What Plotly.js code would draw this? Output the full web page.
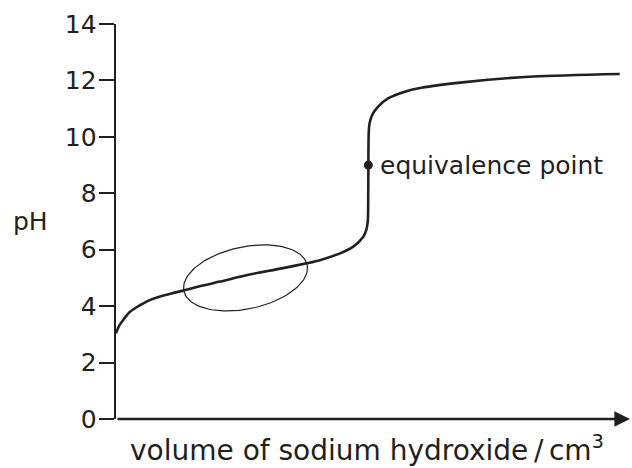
<!DOCTYPE html>
<html>
<head>
<meta charset="utf-8">
<script src="https://cdn.plot.ly/plotly-3.0.1.min.js"></script>
<style>html,body{margin:0;padding:0;background:#fff;}#chart{width:632px;height:468px;}</style>
</head>
<body>
<div id="chart"></div>
<script>
// Titration curve (volume in arbitrary cm3 units, pH)
const volume = [0, 0.3, 0.7, 1.36, 2.0, 2.66, 3.4, 4.28, 5.4, 6.55, 8.3, 10.1, 13.0, 16.0, 18.55, 19.84, 21.8, 23.08, 24.06, 24.35, 24.5, 24.53, 24.55, 24.56, 24.58, 24.63, 24.75, 24.95, 25.5, 26.5, 28.1, 29.7, 33.95, 40.6, 49.0];
const pH     = [3.04, 3.3, 3.51, 3.80, 3.96, 4.10, 4.23, 4.34, 4.45, 4.55, 4.72, 4.87, 5.12, 5.33, 5.52, 5.63, 5.87, 6.11, 6.46, 6.7, 7.05, 7.6, 9.0, 9.7, 10.1, 10.4, 10.6, 10.8, 11.07, 11.37, 11.6, 11.74, 11.94, 12.14, 12.23];
const equivalence = {volume: 24.55, pH: 9.0};
const yTicks = [0, 2, 4, 6, 8, 10, 12, 14];
const xTitle = "volume of sodium hydroxide\u2009/\u2009cm<sup>3</sup>";
const yTitle = "pH";
const eqLabel = "equivalence point";

// layout geometry
const W = 632, H = 468, L = 116, R = 2, T = 24, B = 49;
const xMax = 50, yMax = 14;
const pxX = (W - L - R) / xMax, pxY = (H - T - B) / yMax;

// ellipse (buffer region): data centre, pixel radii and tilt
const ell = {cx: 12.6, cy: 5.0, a: 63, b: 31, tiltDeg: 12};
const ex = [], ey = [];
for (let i = 0; i <= 120; i++) {
  const t = 2 * Math.PI * i / 120, th = ell.tiltDeg * Math.PI / 180;
  const dx = ell.a * Math.cos(t) * Math.cos(th) - ell.b * Math.sin(t) * Math.sin(th);
  const dy = ell.a * Math.cos(t) * Math.sin(th) + ell.b * Math.sin(t) * Math.cos(th);
  ex.push(ell.cx + dx / pxX); ey.push(ell.cy + dy / pxY);
}

const ink = '#231f20';
const fam = 'DejaVu Sans, Liberation Sans, Arial, sans-serif';
const tickFont = {family: fam, size: 25, color: ink};
const textFont = {family: fam, size: 25, color: ink};
const xTitleFont = {family: fam, size: 28, color: ink};

const traces = [
  {x: ex, y: ey, mode: 'lines', line: {color: ink, width: 1.2}, hoverinfo: 'skip', cliponaxis: false},
  {x: volume, y: pH, mode: 'lines', line: {color: ink, width: 2.6, shape: 'spline', smoothing: 0.7}, cliponaxis: false},
  {x: [equivalence.volume], y: [equivalence.pH], mode: 'markers', marker: {color: ink, size: 9}, cliponaxis: false}
];

const layout = {
  width: W, height: H,
  margin: {l: L, r: R, t: T, b: B},
  paper_bgcolor: '#fff', plot_bgcolor: '#fff',
  showlegend: false,
  font: textFont,
  xaxis: {range: [0, xMax], showline: false, showgrid: false, zeroline: false,
          showticklabels: false, ticks: '', fixedrange: true},
  yaxis: {range: [0, yMax], tickvals: yTicks, ticks: 'outside', ticklen: 15, tickwidth: 2, tickcolor: ink,
          ticklabelstandoff: -3,
          showline: true, linecolor: ink, linewidth: 2.4, showgrid: false, zeroline: false, tickfont: tickFont,
          fixedrange: true},
  annotations: [
    {x: xMax, y: 0, xref: 'x', yref: 'y', ax: 0, ay: 0, axref: 'x', ayref: 'y', text: '', showarrow: true,
     arrowhead: 2, arrowsize: 1.3, arrowwidth: 2.4, arrowcolor: ink},
    {x: equivalence.volume, y: equivalence.pH, xref: 'x', yref: 'y', text: eqLabel, showarrow: false,
     xanchor: 'left', yanchor: 'middle', xshift: 10, font: textFont},
    {x: (30 - L) / (W - L - R), y: 7.0, xref: 'paper', yref: 'y', text: yTitle, showarrow: false,
     xanchor: 'center', yanchor: 'middle', font: textFont},
    {x: (367 - L) / (W - L - R), y: -0.075, xref: 'paper', yref: 'paper', text: xTitle, showarrow: false,
     xanchor: 'center', yanchor: 'middle', font: xTitleFont}
  ]
};

Plotly.newPlot('chart', traces, layout, {displayModeBar: false, staticPlot: true});
</script>
</body>
</html>
